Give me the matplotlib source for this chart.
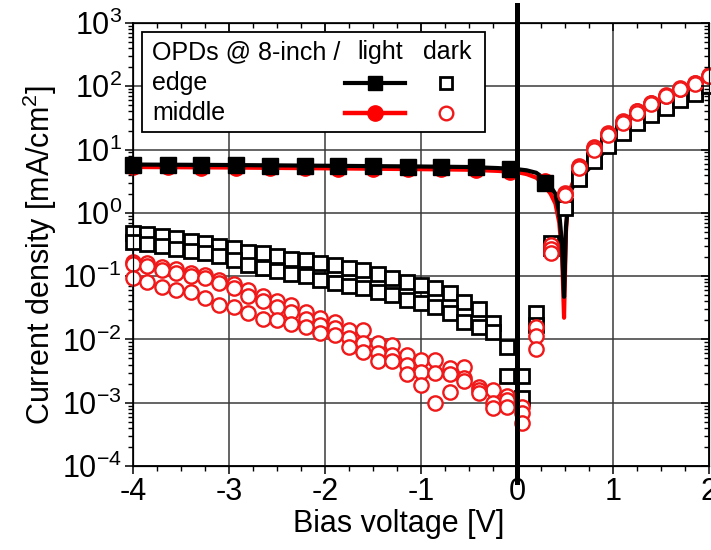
import numpy as np
import matplotlib
matplotlib.use('Agg')
import matplotlib.pyplot as plt
from matplotlib.ticker import MultipleLocator, LogLocator, FuncFormatter, NullFormatter
from matplotlib.lines import Line2D
from matplotlib.patches import Rectangle

plt.rcParams['font.family'] = ['Liberation Sans', 'DejaVu Sans']
plt.rcParams['mathtext.fontset'] = 'custom'
plt.rcParams['mathtext.rm'] = 'Liberation Sans'
plt.rcParams['mathtext.it'] = 'Liberation Sans:italic'
plt.rcParams['mathtext.bf'] = 'Liberation Sans:bold'
plt.rcParams['axes.unicode_minus'] = False

# ---------------- data ----------------
dark_x = [-4.0, -3.85, -3.7, -3.55, -3.4, -3.25, -3.1, -2.95, -2.8, -2.65,
          -2.5, -2.35, -2.2, -2.05, -1.9, -1.75, -1.6, -1.45, -1.3, -1.15,
          -1.0, -0.85, -0.7, -0.55, -0.4, -0.25, -0.1, 0.05, 0.2, 0.35,
          0.5, 0.65, 0.8, 0.95, 1.1, 1.25, 1.4, 1.55, 1.7, 1.85, 2.0]

edge_dark_1 = [0.48, 0.47, 0.43, 0.40, 0.36, 0.34, 0.30, 0.28, 0.24, 0.23,
               0.21, 0.19, 0.18, 0.16, 0.15, 0.135, 0.126, 0.11, 0.094, 0.082,
               0.073, 0.065, 0.055, 0.039, 0.030, 0.018, 0.0077, 0.0026, 0.026, 0.33,
               1.3, 3.6, 6.9, 12, 19, 27, 37, 47, 63, 79, 105]
edge_dark_2 = [0.35, 0.32, 0.30, 0.27, 0.25, 0.23, 0.21, 0.18, 0.15, 0.135,
               0.12, 0.11, 0.10, 0.087, 0.079, 0.07, 0.065, 0.057, 0.05, 0.042,
               0.038, 0.032, 0.026, 0.019, 0.016, 0.013, 0.0026, 0.0012, 0.017, 0.28,
               1.2, 3.4, 6.5, 11.5, 18, 26, 35, 45, 60, 76, 100]

middle_dark_1 = [0.17, 0.16, 0.142, 0.129, 0.114, 0.105, 0.088, 0.074, 0.061, 0.049,
                 0.040, 0.035, 0.027, 0.022, 0.019, 0.0142, 0.0142, 0.0088, 0.0082, 0.0057,
                 0.0048, 0.0048, 0.0035, 0.0037, 0.0018, 0.0016, 0.0013, 0.00087, 0.016, 0.31,
                 2.07, 5.6, 11, 18, 28, 41, 55, 73, 94, 113, 150]
middle_dark_2 = [0.155, 0.145, 0.127, 0.112, 0.10, 0.092, 0.078, 0.064, 0.049, 0.040,
                 0.033, 0.027, 0.021, 0.017, 0.015, 0.0105, 0.0088, 0.0060, 0.0057, 0.0040,
                 0.0031, 0.0029, 0.0028, 0.0025, 0.0016, 0.0010, 0.0011, 0.0007, 0.0115, 0.27,
                 2.0, 5.4, 10.5, 17.5, 27, 40, 54, 71, 92, 112, 148]
middle_dark_3 = [0.094, 0.081, 0.068, 0.061, 0.057, 0.045, 0.035, 0.033, 0.026, 0.021,
                 0.020, 0.0175, 0.0155, 0.0127, 0.0118, 0.0077, 0.0064, 0.0045, 0.0045, 0.0028,
                 0.0019, 0.00099, 0.0015, 0.0022, 0.0014, 0.00082, 0.00087, 0.00048, 0.0071, 0.23,
                 1.9, 5.2, 10, 17, 26, 38, 52, 70, 90, 110, 145]

light_marker_x = [-4.0, -3.64, -3.29, -2.93, -2.57, -2.21, -1.86, -1.5, -1.14,
                  -0.79, -0.43, -0.07, 0.29]
edge_light_markers = [5.8, 5.8, 5.7, 5.7, 5.6, 5.6, 5.5, 5.5, 5.4, 5.4, 5.3, 4.9, 3.0]
middle_light_markers = [5.3, 5.3, 5.2, 5.2, 5.1, 5.1, 5.0, 5.0, 4.9, 4.9, 4.8, 4.5, 3.2]

light_line_x = [-4.0, -3.0, -2.0, -1.0, -0.5, -0.2, 0.0, 0.1, 0.2, 0.25,
                0.3, 0.35, 0.4, 0.44, 0.47, 0.49, 0.51, 0.53, 0.56, 0.6,
                0.65, 0.8, 0.95, 1.1, 1.25, 1.4, 1.55, 1.7, 1.85, 2.0]
edge_light_line = [5.8, 5.7, 5.55, 5.4, 5.3, 5.1, 4.9, 4.7, 4.3, 3.8,
                   3.0, 2.6, 2.0, 1.0, 0.3, 0.047, 0.6, 1.3, 2.2, 3.0,
                   3.5, 6.0, 11, 18, 26, 35, 45, 60, 76, 100]
middle_light_line = [5.3, 5.2, 5.05, 4.9, 4.8, 4.6, 4.4, 4.1, 3.6, 3.1,
                     2.5, 2.0, 1.4, 0.7, 0.2, 0.022, 0.5, 1.4, 2.5, 3.5,
                     4.5, 8.0, 14, 23, 34, 46, 62, 80, 100, 130]

x_ticks = [-4, -3, -2, -1, 0, 1, 2]
legend_header = ['OPDs @ 8-inch /', 'light', 'dark']
legend_rows = ['edge', 'middle']

RED = '#ff0000'
DRED = '#f01818'
GRID = '#3a3a3a'

SQ_MS, SQ_MEW = 9.8, 2.0
CI_MS, CI_MEW = 10.3, 1.7
LT_MS = 11

# ---------------- figure ----------------
fig = plt.figure(figsize=(7.11, 5.5), dpi=100)
ax = fig.add_axes([133/711, 1 - 466/550, 576/711, 443/550])
ax.set_yscale('log')
ax.set_xlim(-4, 2)
ax.set_ylim(1e-4, 1e3)

ax.grid(True, which='major', color=GRID, lw=1.1)
ax.set_axisbelow(True)

# light curves
ax.plot(light_line_x, middle_light_line, color=RED, lw=3, zorder=3)
ax.plot(light_line_x, edge_light_line, color='black', lw=3, zorder=3.1)
ax.plot(light_marker_x, middle_light_markers, 'o', ms=LT_MS, color=RED, ls='none',
        zorder=3.2, clip_on=False)
ax.plot(light_marker_x, edge_light_markers, 's', ms=LT_MS, color='black', ls='none',
        zorder=3.3, clip_on=False)

# dark curves
for yv in (edge_dark_1, edge_dark_2):
    ax.plot(dark_x, yv, 's', ms=SQ_MS, mfc='white', mec='black', mew=SQ_MEW, ls='none',
            zorder=4, clip_on=False)
for yv in (middle_dark_1, middle_dark_2, middle_dark_3):
    ax.plot(dark_x, yv, 'o', ms=CI_MS, mfc='white', mec=DRED, mew=CI_MEW, ls='none',
            zorder=5, clip_on=False)

# zero-bias line
ax.plot([0, 0], [10**3.29, 10**-4.25], color='black', lw=3.6, zorder=6, clip_on=False)

# ticks
ax.xaxis.set_major_locator(MultipleLocator(1))
ax.xaxis.set_minor_locator(MultipleLocator(0.25))
ax.set_xticks(x_ticks)
ax.yaxis.set_major_locator(LogLocator(base=10, numticks=20))
ax.yaxis.set_minor_locator(LogLocator(base=10, subs=np.arange(2, 10), numticks=20))
ax.yaxis.set_minor_formatter(NullFormatter())
ax.yaxis.set_major_formatter(FuncFormatter(
    lambda v, p: r'$\mathregular{10^{%d}}$' % int(round(np.log10(v)))))
ax.tick_params(axis='both', which='major', direction='out', length=6, width=1.1,
               labelsize=22, top=False, right=False)
ax.tick_params(axis='both', which='minor', direction='out', length=3.5, width=1.0,
               top=False, right=False)
ax.tick_params(axis='x', which='major', pad=2)
ax.tick_params(axis='y', which='major', pad=2)
for s in ax.spines.values():
    s.set_linewidth(1.2)

# top / right inward ticks
axt = ax.twiny()
axt.set_xlim(ax.get_xlim())
axt.xaxis.set_major_locator(MultipleLocator(1))
axt.xaxis.set_minor_locator(MultipleLocator(0.25))
axt.tick_params(axis='x', which='major', direction='in', length=6, width=1.1,
                labeltop=False, top=True, bottom=False)
axt.tick_params(axis='x', which='minor', direction='in', length=3.5, width=1.0,
                top=True, bottom=False)
axr = ax.twinx()
axr.set_yscale('log')
axr.set_ylim(ax.get_ylim())
axr.yaxis.set_major_locator(LogLocator(base=10, numticks=20))
axr.yaxis.set_minor_locator(LogLocator(base=10, subs=np.arange(2, 10), numticks=20))
axr.tick_params(axis='y', which='major', direction='in', length=6, width=1.1,
                labelright=False, right=True, left=False)
axr.tick_params(axis='y', which='minor', direction='in', length=3.5, width=1.0,
                right=True, left=False)
axr.yaxis.set_minor_formatter(NullFormatter())
axr.yaxis.set_major_formatter(NullFormatter())

# axis labels
ax.set_xlabel('Bias voltage [V]', fontsize=22)
ax.xaxis.label.set_va('center')
ax.xaxis.set_label_coords(0.462, -0.131)
ax.set_ylabel(r'Current density [mA/cm$^\mathregular{2}$]', fontsize=22)
ax.yaxis.label.set_va('center')
ax.yaxis.set_label_coords(-0.162, 0.476)

# legend (manual, Origin style)
T = ax.transAxes
ax.add_patch(Rectangle((0.0156, 0.754), 0.611 - 0.0156, 0.980 - 0.754, transform=T,
                       facecolor='white', edgecolor='black', lw=1.3, zorder=10))
ry = [0.9345, 0.8646, 0.797]
ax.text(0.033, ry[0], legend_header[0], transform=T, fontsize=18, va='center', zorder=11)
ax.text(0.389, ry[0], legend_header[1], transform=T, fontsize=18, va='center', zorder=11)
ax.text(0.503, ry[0], legend_header[2], transform=T, fontsize=18, va='center', zorder=11)
ax.text(0.033, ry[1], legend_rows[0], transform=T, fontsize=18, va='center', zorder=11)
ax.text(0.033, ry[2], legend_rows[1], transform=T, fontsize=18, va='center', zorder=11)
ax.add_line(Line2D([0.368, 0.472], [ry[1], ry[1]], transform=T, color='black', lw=3, zorder=11))
ax.add_line(Line2D([0.420], [ry[1]], transform=T, marker='s', ms=10, color='black', zorder=12))
ax.add_line(Line2D([0.368, 0.472], [ry[2], ry[2]], transform=T, color=RED, lw=3.2, zorder=11))
ax.add_line(Line2D([0.420], [ry[2]], transform=T, marker='o', ms=11, color=RED, zorder=12))
ax.add_line(Line2D([0.543], [ry[1]], transform=T, marker='s', ms=SQ_MS - 1, mfc='white', mec='black',
                   mew=SQ_MEW, zorder=12))
ax.add_line(Line2D([0.543], [ry[2]], transform=T, marker='o', ms=CI_MS - 0.5, mfc='white', mec=DRED,
                   mew=CI_MEW, zorder=12))

fig.savefig('out.png', dpi=100)
